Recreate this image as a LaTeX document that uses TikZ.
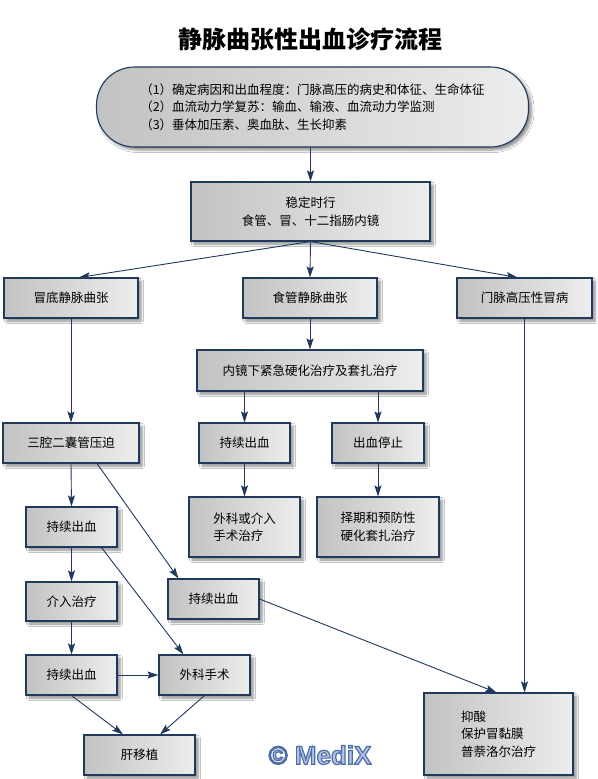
\documentclass[tikz,border=0pt]{standalone}
\usepackage{fontspec}
\setmainfont{Noto Sans CJK SC}
\newfontfamily\wmfont{Liberation Sans}
\usetikzlibrary{arrows.meta,shadows.blur,calc}
\definecolor{edgec}{HTML}{1F3A5C}
\definecolor{boxl}{HTML}{C2C2C2}
\definecolor{boxr}{HTML}{EDEDED}
\definecolor{wmlight}{HTML}{B4C4E6}
\definecolor{wmdark}{HTML}{4E6EA8}
\begin{document}
\begin{tikzpicture}[x=1pt,y=-1pt,
  box/.style={draw=edgec, line width=1.1pt, left color=boxl, right color=boxr,
    blur shadow={shadow xshift=3pt, shadow yshift=-3pt, shadow blur steps=6, shadow blur radius=2.5pt, shadow opacity=45},
    inner sep=2pt, font=\fontsize{12.5}{17.5}\selectfont, text=black},
  arr/.style={draw=edgec, line width=0.9pt, -{Stealth[length=11pt,width=7pt,inset=2pt]}},
  wm/.style={font=\wmfont\bfseries\fontsize{26}{26}\selectfont, inner sep=0pt}
]
\useasboundingbox (0,0) rectangle (597,779);
\fill[white] (0,0) rectangle (597,779);

\node (title) at (310,39) {\fontsize{24}{24}\selectfont\bfseries 静脉曲张性出血诊疗流程};

\node[box, rounded corners=38pt, minimum width=432pt, minimum height=80pt, align=left] (top) at (312.5,107)
 {（1）确定病因和出血程度：门脉高压的病史和体征、生命体征\\（2）血流动力学复苏：输血、输液、血流动力学监测\\（3）垂体加压素、奥血肽、生长抑素};

\node[box, minimum width=239pt, minimum height=59pt, align=center] (stab) at (310.5,211.5) {稳定时行\\食管、冒、十二指肠内镜};

\node[box, minimum width=134pt, minimum height=40pt] (b1) at (71,298) {冒底静脉曲张};
\node[box, minimum width=134pt, minimum height=40pt] (b2) at (310,298) {食管静脉曲张};
\node[box, minimum width=135pt, minimum height=40pt] (b3) at (524.5,298) {门脉高压性冒病};

\node[box, minimum width=226pt, minimum height=41pt] (endo) at (310,370.5) {内镜下紧急硬化治疗及套扎治疗};
\node[box, minimum width=136pt, minimum height=40pt] (l0) at (71,443) {三腔二囊管压迫};
\node[box, minimum width=91pt, minimum height=40pt] (c1) at (244.5,443) {持续出血};
\node[box, minimum width=92pt, minimum height=40pt] (c2) at (378,443) {出血停止};
\node[box, minimum width=111pt, minimum height=60pt, align=left] (c3) at (244.5,527) {外科或介入\\手术治疗};
\node[box, minimum width=122pt, minimum height=60pt, align=left] (c4) at (378,527) {择期和预防性\\硬化套扎治疗};

\node[box, minimum width=91pt, minimum height=40pt] (l1) at (71.5,527) {持续出血};
\node[box, minimum width=91pt, minimum height=40pt] (m) at (213.5,599) {持续出血};
\node[box, minimum width=91pt, minimum height=39pt] (l2) at (71.5,601.5) {介入治疗};
\node[box, minimum width=91pt, minimum height=40pt] (l3) at (71.5,675) {持续出血};
\node[box, minimum width=91pt, minimum height=40pt] (s) at (204.5,675) {外科手术};
\node[box, minimum width=111pt, minimum height=40pt] (liver) at (139.5,755) {肝移植};
\node[box, minimum width=149pt, minimum height=82pt, align=left] (r) at (498.5,734) {抑酸\\保护冒黏膜\\普萘洛尔治疗};

% connectors
\draw[arr] (stab.north |- top.south) -- (stab.north);
\draw[arr] (stab.south) -- ($(b1.north)+(8,0)$);
\draw[arr] (stab.south) -- (b2.north);
\draw[arr] (stab.south) -- ($(b3.north)+(-7,0)$);
\draw[arr] (b1.south) -- (l0.north);
\draw[arr] (b2.south) -- (endo.north);
\draw[arr] (b3.south) -- (b3.south |- r.north);
\draw[arr] (c1.north |- endo.south) -- (c1.north);
\draw[arr] (c2.north |- endo.south) -- (c2.north);
\draw[arr] (c1.south) -- (c3.north);
\draw[arr] (c2.south) -- (c4.north);
\draw[arr] (l0.south) -- (l1.north);
\draw[arr] ($(l0.south)+(26,0)$) -- ($(m.north)+(-35,0)$);
\draw[arr] ($(l1.south)+(30,0)$) -- ($(s.north)+(-21,0)$);
\draw[arr] (l1.south) -- (l2.north);
\draw[arr] (m.east) -- ($(r.north)+(-2,0)$);
\draw[arr] (l2.south) -- (l3.north);
\draw[arr] (l3.east) -- (s.west);
\draw[arr] (l3.south) -- ($(liver.north)+(-16.5,0)$);
\draw[arr] (s.south) -- ($(liver.north)+(20.5,0)$);

% watermark (outlined text)
\node[wm, text=wmlight] (wmark) at (320,755)
  {\special{pdf:code q 2 Tr 1.2 w 0.306 0.431 0.659 RG}© MediX\special{pdf:code Q}};
\end{tikzpicture}
\end{document}
